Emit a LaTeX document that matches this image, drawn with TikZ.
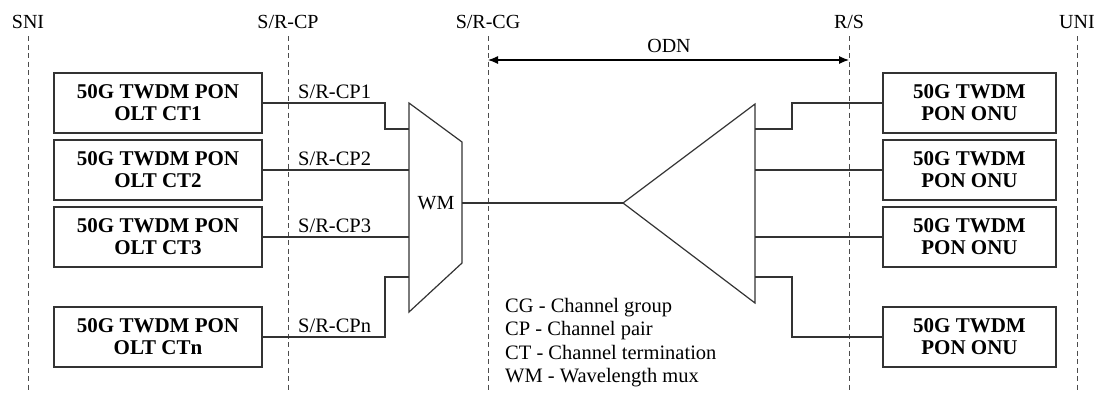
\documentclass[tikz,border=0pt]{standalone}
\usepackage{fontspec}
\setmainfont{Liberation Serif}
\usetikzlibrary{arrows.meta}
\begin{document}
\begin{tikzpicture}[x=1pt,y=-1pt,
  refline/.style={draw=black!70, line width=1pt, dash pattern=on 5pt off 3.5pt},
  reflabel/.style={font=\fontsize{20}{24}\selectfont, inner sep=0pt},
  unitbox/.style={draw=black!80, line width=1.3pt, minimum height=60pt, inner sep=0pt,
                  align=center, font=\fontsize{21}{22}\selectfont\bfseries},
  oltbox/.style={unitbox, minimum width=208pt},
  onubox/.style={unitbox, minimum width=173pt},
  wire/.style={draw=black!80, line width=1.1pt},
  device/.style={draw=black!80, line width=1.2pt, line join=miter},
  cplabel/.style={font=\fontsize{20.5}{24}\selectfont, anchor=south west, inner sep=0pt},
  legend/.style={font=\fontsize{20.5}{23.3}\selectfont, align=left, anchor=north west, inner sep=0pt}
]
\useasboundingbox (0,0) rectangle (1099,392);

% reference points and lines
\node[reflabel] (sni) at (28,22) {SNI};
\node[reflabel] (srcp) at (288,22) {S/R-CP};
\node[reflabel] (srcg) at (488,22) {S/R-CG};
\node[reflabel] (rs) at (849,22) {R/S};
\node[reflabel] (uni) at (1077,22) {UNI};
\foreach \nm/\xx in {sni/28, srcp/288, srcg/488, rs/849, uni/1077}{
  \coordinate (\nm t) at (\xx,36);
  \coordinate (\nm b) at (\xx,392);
  \draw[refline] (\nm t) -- (\nm b);
}

% ODN arrow
\coordinate (odnL) at (488,60);
\coordinate (odnR) at (849,60);
\draw[line width=1.1pt, {Latex[length=10pt,width=8pt]}-{Latex[length=10pt,width=8pt]}] (odnL) -- (odnR);
\node[reflabel] (odn) at (669,46) {ODN};

% OLT boxes
\node[oltbox] (olt1) at (158,103) {50G TWDM PON\\OLT CT1};
\node[oltbox] (olt2) at (158,170) {50G TWDM PON\\OLT CT2};
\node[oltbox] (olt3) at (158,237) {50G TWDM PON\\OLT CT3};
\node[oltbox] (oltn) at (158,337) {50G TWDM PON\\OLT CTn};

% ONU boxes
\node[onubox] (onu1) at (969.5,103) {50G TWDM\\PON ONU};
\node[onubox] (onu2) at (969.5,170) {50G TWDM\\PON ONU};
\node[onubox] (onu3) at (969.5,237) {50G TWDM\\PON ONU};
\node[onubox] (onu4) at (969.5,337) {50G TWDM\\PON ONU};

% WM
\coordinate (wmA) at (409,103);
\coordinate (wmB) at (462,142);
\coordinate (wmC) at (462,263);
\coordinate (wmD) at (409,312);
\draw[device] (wmA) -- (wmB) -- (wmC) -- (wmD) -- cycle;
\node[reflabel] (wm) at (436,203) {WM};
\coordinate (wmin1) at (409,129);
\coordinate (wmin2) at (409,170);
\coordinate (wmin3) at (409,237);
\coordinate (wmin4) at (409,277);
\coordinate (wmout) at (462,203);

% splitter
\coordinate (spT) at (623,203);
\coordinate (spU) at (755,104);
\coordinate (spL) at (755,303);
\draw[device] (spT) -- (spU) -- (spL) -- cycle;
\coordinate (spo1) at (755,129);
\coordinate (spo2) at (755,170);
\coordinate (spo3) at (755,237);
\coordinate (spo4) at (755,277);

% connectors left
\draw[wire] (olt1.east) -- (385,103) |- (wmin1);
\draw[wire] (olt2.east) -- (wmin2);
\draw[wire] (olt3.east) -- (wmin3);
\draw[wire] (oltn.east) -- (385,337) |- (wmin4);
\draw[wire] (wmout) -- (spT);

% connectors right
\draw[wire] (spo1) -- (792,129) |- (onu1.west);
\draw[wire] (spo2) -- (onu2.west);
\draw[wire] (spo3) -- (onu3.west);
\draw[wire] (spo4) -- (792,277) |- (onu4.west);

% CP labels
\node[cplabel] (cp1) at (298,99) {S/R-CP1};
\node[cplabel] (cp2) at (298,166) {S/R-CP2};
\node[cplabel] (cp3) at (298,233) {S/R-CP3};
\node[cplabel] (cpn) at (298,333) {S/R-CPn};

% legend
\node[legend] (leg) at (505,298) {CG - Channel group\\CP - Channel pair\\CT - Channel termination\\WM - Wavelength mux};
\end{tikzpicture}
\end{document}
